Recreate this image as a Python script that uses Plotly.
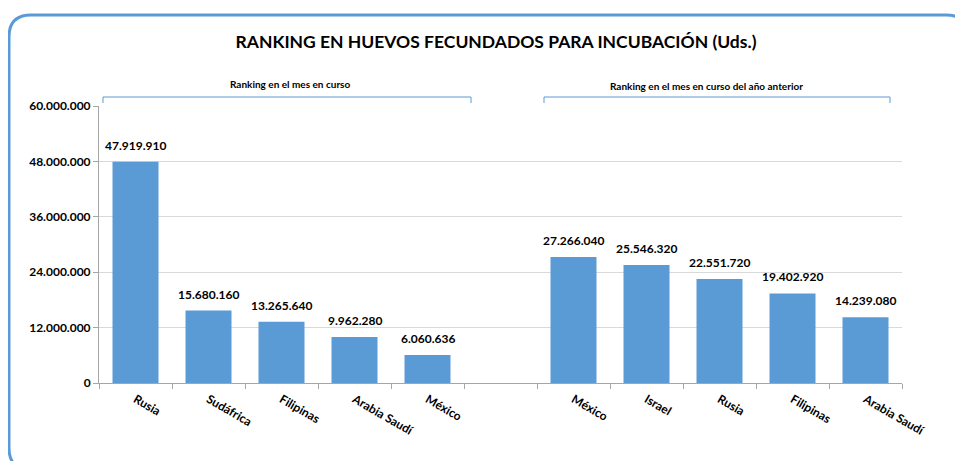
import plotly.graph_objects as go

# datos
paises_mes = ["Rusia", "Sudáfrica", "Filipinas", "Arabia Saudí", "México"]
valores_mes = [47919910, 15680160, 13265640, 9962280, 6060636]
paises_anterior = ["México", "Israel", "Rusia", "Filipinas", "Arabia Saudí"]
valores_anterior = [27266040, 25546320, 22551720, 19402920, 14239080]
y_ticks = [0, 12000000, 24000000, 36000000, 48000000, 60000000]

titulo = "RANKING EN HUEVOS FECUNDADOS PARA INCUBACIÓN (Uds.)"
grupo1 = "Ranking en el mes en curso"
grupo2 = "Ranking en el mes en curso del año anterior"

AZUL = "#5b9bd5"
FUENTE = "Lato"

# posiciones: 5 barras, hueco, 5 barras
x1 = list(range(len(paises_mes)))
x2 = [len(paises_mes) + 1 + i for i in range(len(paises_anterior))]
etiquetas = paises_mes + [""] + paises_anterior
posiciones = list(range(len(etiquetas)))

# la página añade 8px de margen al cuerpo
OFF = 8
W, H = 963, 461
L, T = 99 - OFF, 106 - OFF
R, B = W - (902 - OFF), H - (383 - OFF)
pw, ph = W - L - R, H - T - B


def px(x):
    return (x - OFF - L) / pw


def py(y):
    return (H - B - (y - OFF)) / ph


fig = go.Figure()
for xs, vs in [(x1, valores_mes), (x2, valores_anterior)]:
    fig.add_bar(
        x=xs, y=vs,
        marker=dict(color=AZUL, line=dict(width=0)),
        showlegend=False,
    )
    for xv, v in zip(xs, vs):
        fig.add_annotation(x=xv, y=v, text=f"{v:,}".replace(",", "."),
                           showarrow=False, yanchor="bottom", yshift=7,
                           font=dict(family=FUENTE, size=12, color="black", weight="bold"))

fig.update_layout(
    width=W, height=H,
    margin=dict(l=L, r=R, t=T, b=B),
    separators=",.",
    bargap=0.37,
    plot_bgcolor="white", paper_bgcolor="white",
    font=dict(family=FUENTE, color="black"),
    title=dict(text=titulo, x=(496 - OFF) / W, xanchor="center", y=1 - (42 - OFF) / H, yanchor="middle",
               font=dict(size=17.5, family=FUENTE, weight="bold", color="black")),
)

fig.update_xaxes(
    range=[-0.5, len(etiquetas) - 0.5],
    tickvals=posiciones, ticktext=etiquetas, tickangle=30,
    ticks="", showgrid=False, zeroline=False,
    showline=True, linecolor="#a6a6a6", linewidth=1,
    ticklabelstandoff=4,
    tickfont=dict(size=12, family=FUENTE, weight="bold"),
    minor=dict(tick0=-0.5, dtick=1, ticks="outside", ticklen=5, tickcolor="#a6a6a6", showgrid=False),
)
fig.update_yaxes(
    range=[0, 60000000], tickvals=y_ticks, tickformat=",",
    ticks="outside", ticklen=5, tickcolor="#a6a6a6",
    showgrid=True, gridcolor="#d9d9d9", zeroline=False,
    showline=True, linecolor="#a6a6a6", linewidth=1,
    tickfont=dict(size=12, family=FUENTE, weight="bold"),
)

shapes = []
# corchetes de grupo
for xa, xb in [(103, 471), (544, 890)]:
    shapes.append(dict(
        type="path", xref="paper", yref="paper",
        path=f"M {px(xa)} {py(103)} L {px(xa)} {py(97)} L {px(xb)} {py(97)} L {px(xb)} {py(103)}",
        line=dict(color=AZUL, width=1),
    ))
# marco redondeado (se sale por la derecha y por abajo)
r = 22
x0b, x1b, y0b, y1b = 9, 968, 15, 470
shapes.append(dict(
    type="path", xref="paper", yref="paper",
    path=(f"M {px(x0b)} {py(y1b - r)} L {px(x0b)} {py(y0b + r)} "
          f"Q {px(x0b)} {py(y0b)} {px(x0b + r)} {py(y0b)} "
          f"L {px(x1b - r)} {py(y0b)} Q {px(x1b)} {py(y0b)} {px(x1b)} {py(y0b + r)} "
          f"L {px(x1b)} {py(y1b - r)} Q {px(x1b)} {py(y1b)} {px(x1b - r)} {py(y1b)} "
          f"L {px(x0b + r)} {py(y1b)} Q {px(x0b)} {py(y1b)} {px(x0b)} {py(y1b - r)}"),
    line=dict(color=AZUL, width=3),
))
fig.update_layout(shapes=shapes)

for texto, xc, yc in [(grupo1, 290, 84), (grupo2, 706, 86)]:
    fig.add_annotation(text=texto, xref="paper", yref="paper", x=px(xc), y=py(yc),
                       showarrow=False, xanchor="center", yanchor="middle",
                       font=dict(size=10, family=FUENTE, weight="bold", color="black"))

fig.write_html("out.html")
